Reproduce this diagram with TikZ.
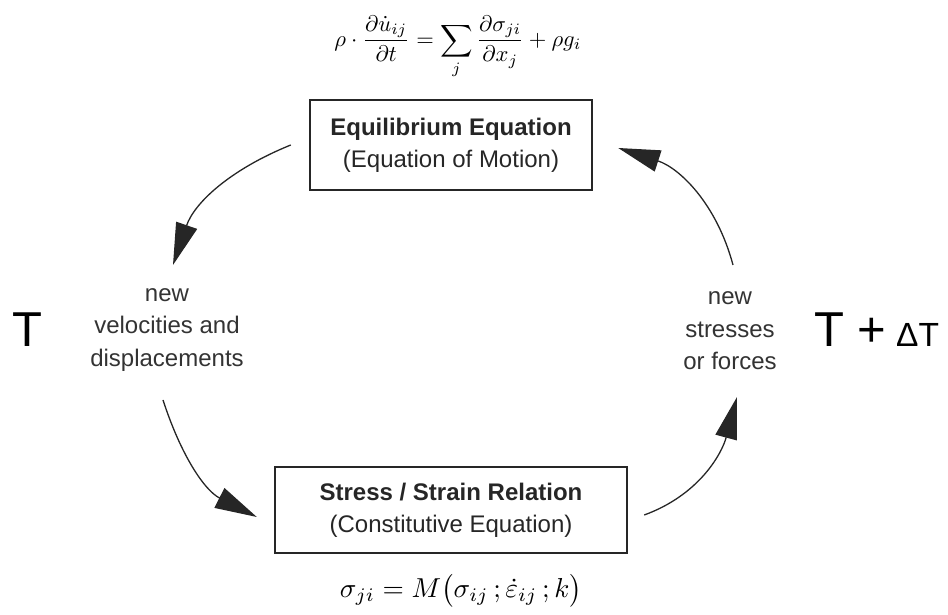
\documentclass[tikz,border=0pt]{standalone}
\usepackage{amsmath}
\usepackage{graphicx}
\usepackage{fontspec}
\setmainfont{Liberation Sans}
\usetikzlibrary{arrows.meta}
\begin{document}
\begin{tikzpicture}[x=1pt,y=1pt,
  box/.style={draw=black!85, line width=2.4pt, align=center, inner sep=0pt,
    text=black!85, font=\fontsize{24}{32}\selectfont},
  lbl/.style={align=center, inner sep=0pt, text=black!80, font=\fontsize{24}{32.5}\selectfont},
  bigt/.style={inner sep=0pt, anchor=base west, font=\fontsize{49}{50}\selectfont},
  smallt/.style={inner sep=0pt, anchor=base west, font=\fontsize{33.5}{34}\selectfont},
  cyc/.style={line width=1.3pt, draw=black!85, -{Triangle[length=42pt,width=22pt]}}]
\useasboundingbox (0,0) rectangle (948,615);
% equations
\node (eqm) at (458,568) {\resizebox{247pt}{!}{$\displaystyle \rho\cdot\frac{\partial\dot u_{ij}}{\partial t}=\sum_j\frac{\partial\sigma_{ji}}{\partial x_j}+\rho g_i$}};
\node (cst) at (461,24) {\resizebox{242pt}{!}{$\displaystyle \sigma_{ji}=M\bigl(\sigma_{ij}\,;\dot\varepsilon_{ij}\,;k\bigr)$}};
% boxes
\node[box, minimum width=282pt, minimum height=90pt] (eq) at (451,470)
  {\textbf{Equilibrium Equation}\\(Equation of Motion)};
\node[box, minimum width=352pt, minimum height=86pt] (ss) at (451,105)
  {\textbf{Stress / Strain Relation}\\(Constitutive Equation)};
% side labels
\node[lbl] (vel) at (167,285) {new\\velocities and\\displacements};
\node[lbl] (str) at (730,284) {new\\stresses\\or forces};
\node[bigt] (t0) at (12,268) {T};
\node[bigt] (t1) at (814,268) {T +};
\node[smallt] (dt) at (896,268) {ΔT};
% cycle arrows
\draw[cyc] ([xshift=-18pt]eq.west) to[out=202,in=71] ([shift={(6,65)}]vel.center);
\draw[cyc] ([shift={(-4,-70)}]vel.center) to[out=288,in=153] ([shift={(-17,-7)}]ss.west);
\draw[cyc] ([shift={(16,-5)}]ss.east) to[out=20,in=255] ([shift={(7,-66)}]str.center);
\draw[cyc] ([shift={(3,66)}]str.center) to[out=105,in=342] ([shift={(25,-3)}]eq.east);
\end{tikzpicture}
\end{document}
